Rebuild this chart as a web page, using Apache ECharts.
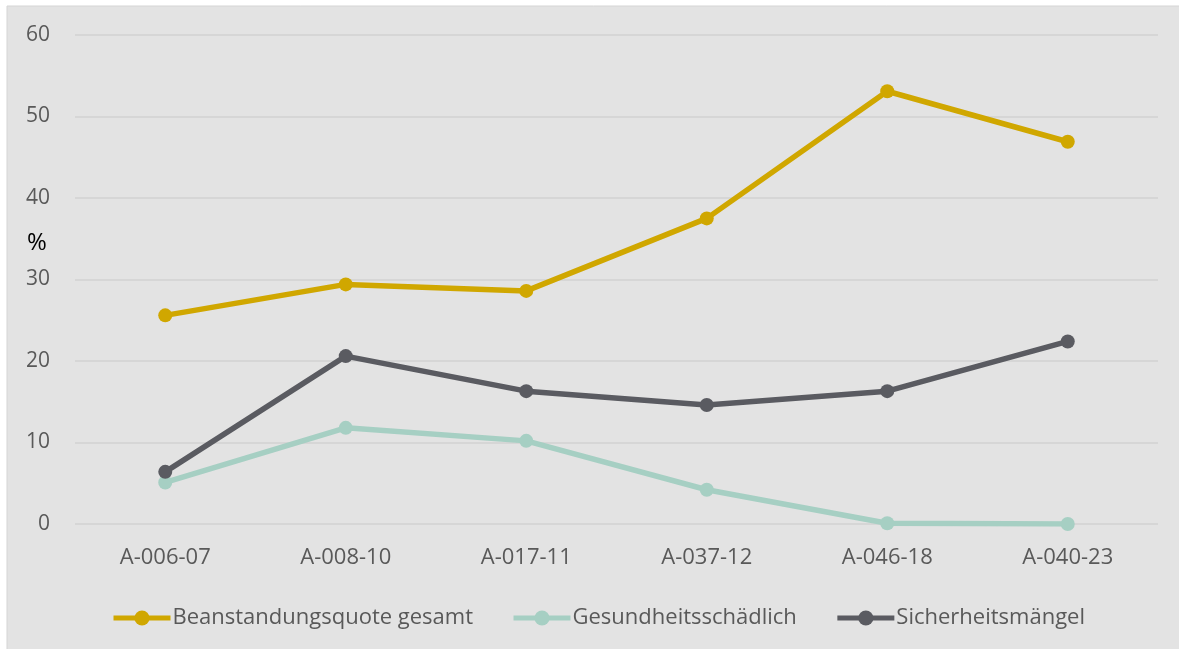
<!DOCTYPE html>
<html><head><meta charset="utf-8">
<script src="https://cdn.jsdelivr.net/npm/echarts@6/dist/echarts.min.js"></script>
<style>html,body{margin:0;padding:0;background:#fff}#c{width:1179px;height:649px}</style>
</head><body><div id="c"></div>
<script>
const categories = ['A-006-07','A-008-10','A-017-11','A-037-12','A-046-18','A-040-23'];
const beanstandung = [25.6, 29.4, 28.6, 37.5, 53.1, 46.9];
const gesundheit = [5.1, 11.8, 10.2, 4.2, 0.1, 0.0];
const sicherheit = [6.4, 20.6, 16.3, 14.6, 16.3, 22.4];
const seriesNames = ['Beanstandungsquote gesamt','Gesundheitsschädlich','Sicherheitsmängel'];
const colors = ['#d0a700','#a6cfc3','#5a5b61'];
const font = '"Open Sans", "Noto Sans", sans-serif';
const chart = echarts.init(document.getElementById('c'));
const mk = (name, data, color) => ({
  name, type:'line', data, color,
  symbol:'circle', symbolSize:14,
  lineStyle:{width:5.5, color}, itemStyle:{color},
  emphasis:{disabled:true}
});
chart.setOption({
  animation:false,
  backgroundColor:'#ffffff',
  graphic:[
    {type:'rect', shape:{x:7,y:6,width:1180,height:650}, style:{fill:'#e3e3e3', stroke:'#d5d5d5', lineWidth:1}, z:-10},
    {type:'text', left:27, top:231, style:{text:'%', fill:'#000', font:'24px '+font}}
  ],
  grid:{left:75, right:21, top:35, bottom:125, containLabel:false},
  legend:{
    data:seriesNames, bottom:15, left:106, itemWidth:57, itemHeight:19, itemGap:38,
    lineStyle:{width:5},
    textStyle:{color:'#595959', fontSize:22, fontFamily:font, padding:[0,0,0,-3]}
  },
  xAxis:{
    type:'category', data:categories, boundaryGap:true,
    axisLine:{show:false}, axisTick:{show:false},
    axisLabel:{color:'#595959', fontSize:22, fontFamily:font, margin:23}
  },
  yAxis:{
    type:'value', min:0, max:60, interval:10,
    axisLine:{show:false}, axisTick:{show:false},
    axisLabel:{color:'#595959', fontSize:21, fontFamily:font, margin:25},
    splitLine:{lineStyle:{color:'#d6d6d6', width:2}}
  },
  series:[
    mk(seriesNames[0], beanstandung, colors[0]),
    mk(seriesNames[1], gesundheit, colors[1]),
    mk(seriesNames[2], sicherheit, colors[2])
  ]
});
</script></body></html>
